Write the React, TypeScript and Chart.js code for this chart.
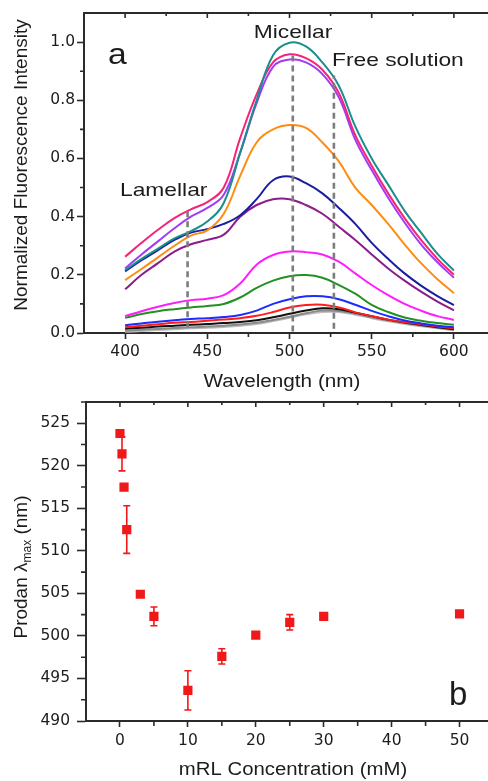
import React, { useEffect, useRef } from "react";
import { Chart, registerables } from "chart.js";

Chart.register(...registerables);

// ---------------- Panel (a): emission spectra ----------------
const wavelengthNm = [400, 410, 420, 430, 440, 450, 460, 470, 480, 490, 500, 510, 520, 530, 540, 550, 560, 570, 580, 590, 600];
const spectrumTeal = [0.216, 0.255, 0.29, 0.325, 0.35, 0.383, 0.447, 0.62, 0.8, 0.955, 0.998, 0.985, 0.93, 0.85, 0.71, 0.6, 0.51, 0.42, 0.345, 0.272, 0.215];
const spectrumRose = [0.262, 0.31, 0.355, 0.395, 0.425, 0.45, 0.5, 0.67, 0.82, 0.93, 0.958, 0.945, 0.905, 0.825, 0.68, 0.575, 0.48, 0.395, 0.32, 0.255, 0.2];
const spectrumViolet = [0.222, 0.27, 0.315, 0.36, 0.4, 0.43, 0.475, 0.62, 0.79, 0.915, 0.94, 0.93, 0.89, 0.81, 0.665, 0.56, 0.465, 0.38, 0.305, 0.243, 0.19];
const spectrumOrange = [0.182, 0.22, 0.26, 0.3, 0.335, 0.353, 0.41, 0.54, 0.655, 0.7, 0.715, 0.705, 0.655, 0.59, 0.5, 0.44, 0.375, 0.305, 0.24, 0.185, 0.137];
const spectrumNavy = [0.212, 0.25, 0.285, 0.32, 0.345, 0.357, 0.375, 0.405, 0.46, 0.525, 0.538, 0.515, 0.48, 0.43, 0.375, 0.31, 0.255, 0.205, 0.163, 0.127, 0.096];
const spectrumPurple = [0.15, 0.2, 0.24, 0.28, 0.305, 0.32, 0.338, 0.4, 0.44, 0.46, 0.46, 0.44, 0.41, 0.365, 0.32, 0.27, 0.222, 0.18, 0.142, 0.108, 0.078];
const spectrumMagenta = [0.058, 0.075, 0.09, 0.103, 0.113, 0.118, 0.13, 0.17, 0.235, 0.268, 0.28, 0.278, 0.27, 0.245, 0.205, 0.165, 0.13, 0.1, 0.077, 0.058, 0.045];
const spectrumGreen = [0.052, 0.065, 0.075, 0.082, 0.088, 0.093, 0.1, 0.122, 0.155, 0.18, 0.195, 0.199, 0.19, 0.165, 0.135, 0.097, 0.072, 0.053, 0.042, 0.034, 0.028];
const spectrumBlue = [0.027, 0.033, 0.039, 0.044, 0.048, 0.051, 0.055, 0.062, 0.077, 0.1, 0.116, 0.126, 0.126, 0.116, 0.097, 0.076, 0.058, 0.043, 0.033, 0.025, 0.02];
const spectrumRed = [0.02, 0.025, 0.03, 0.035, 0.038, 0.042, 0.046, 0.051, 0.059, 0.072, 0.088, 0.096, 0.097, 0.088, 0.071, 0.058, 0.046, 0.037, 0.03, 0.022, 0.016];
const spectrumBlack = [0.015, 0.018, 0.022, 0.025, 0.028, 0.031, 0.034, 0.038, 0.044, 0.054, 0.066, 0.077, 0.085, 0.082, 0.07, 0.058, 0.046, 0.036, 0.028, 0.02, 0.013];
const spectrumGray = [0.008, 0.011, 0.014, 0.017, 0.02, 0.022, 0.025, 0.029, 0.035, 0.045, 0.056, 0.068, 0.077, 0.076, 0.066, 0.054, 0.043, 0.034, 0.026, 0.018, 0.011];
const spectrumLightGray = [0.004, 0.007, 0.01, 0.013, 0.016, 0.018, 0.021, 0.025, 0.031, 0.041, 0.052, 0.064, 0.072, 0.072, 0.063, 0.051, 0.04, 0.031, 0.023, 0.016, 0.009];

// dashed markers for the three environments
const regionNames = ["Lamellar", "Micellar", "Free solution"];
const regionWavelength = [438, 502, 527];
const regionLineTop = [0.425, 0.955, 0.885];
const regionLineBottom = [0.02, 0.005, 0.015];

const wavelengthTicks = [400, 450, 500, 550, 600];
const wavelengthMinorTicks = [425, 475, 525, 575];
const intensityTicks = [0, 0.2, 0.4, 0.6, 0.8, 1.0];
const intensityMinorTicks = [0.1, 0.3, 0.5, 0.7, 0.9];

// ---------------- Panel (b): lambda max vs concentration ----------------
const concentrationMM = [0, 0.3, 0.6, 1, 3, 5, 10, 15, 20, 25, 30, 50];
const lambdaMaxNm = [523.8, 521.4, 517.5, 512.5, 504.9, 502.3, 493.6, 497.6, 500.1, 501.6, 502.3, 502.6];
const lambdaErrNm = [0.3, 2.0, 0.3, 2.8, 0.3, 1.1, 2.3, 0.9, 0.3, 0.9, 0.3, 0.3];

const concentrationTicks = [0, 10, 20, 30, 40, 50];
const concentrationMinorTicks = [5, 15, 25, 35, 45];
const lambdaTicks = [490, 495, 500, 505, 510, 515, 520, 525];
const lambdaMinorTicks = [492.5, 497.5, 502.5, 507.5, 512.5, 517.5, 522.5, 527.5];

// ---------------- styling ----------------
const AXIS = "#2b2b2b";
const TEXT = "#1c1c1c";
const TICK_FONT = { family: '"DejaVu Sans", sans-serif', size: 15.5 };
const TITLE_FAMILY = '"Liberation Sans", Arial, sans-serif';

const spectraStyle: [number[], string][] = [
  [spectrumTeal, "#1a8f8c"],
  [spectrumRose, "#f5237a"],
  [spectrumViolet, "#a03cf5"],
  [spectrumOrange, "#ff8c10"],
  [spectrumNavy, "#1c1ca0"],
  [spectrumPurple, "#8c1c8c"],
  [spectrumMagenta, "#ff1cff"],
  [spectrumGreen, "#229022"],
  [spectrumBlue, "#1c2cff"],
  [spectrumRed, "#ff1c1c"],
  [spectrumBlack, "#111111"],
  [spectrumGray, "#8a8a8a"],
  [spectrumLightGray, "#bdbdbd"],
];

const CANVAS_W = 500;
const TOP_H = 392;
const BOT_H = 389;

function drawText(ctx: CanvasRenderingContext2D, text: string, x: number, y: number, size: number, align: CanvasTextAlign, sx = 1) {
  ctx.save();
  ctx.translate(x, y);
  ctx.scale(sx, 1);
  ctx.font = `${size}px ${TITLE_FAMILY}`;
  ctx.textAlign = align;
  ctx.textBaseline = "alphabetic";
  ctx.fillStyle = TEXT;
  ctx.fillText(text, 0, 0);
  ctx.restore();
}

function drawFrame(chart: any, minorX: number[], minorY: number[], topMajor: number[], topMinor: number[], outMinor: number) {
  const { ctx, chartArea: a } = chart;
  const xs = chart.scales.x;
  const ys = chart.scales.y;
  ctx.save();
  ctx.strokeStyle = AXIS;
  ctx.lineWidth = 2;
  ctx.beginPath();
  ctx.moveTo(a.left - 1, a.top);
  ctx.lineTo(a.right, a.top);
  ctx.lineTo(a.right, a.bottom);
  ctx.stroke();
  ctx.lineWidth = 1.6;
  ctx.beginPath();
  for (const v of minorX) {
    const p = xs.getPixelForValue(v);
    ctx.moveTo(p, a.bottom);
    ctx.lineTo(p, a.bottom + outMinor);
  }
  for (const v of minorY) {
    const p = ys.getPixelForValue(v);
    if (p < a.top - 0.5) continue;
    ctx.moveTo(a.left, p);
    ctx.lineTo(a.left - outMinor, p);
  }
  for (const v of topMajor) {
    const p = xs.getPixelForValue(v);
    ctx.moveTo(p, a.top);
    ctx.lineTo(p, a.top + 5);
  }
  for (const v of topMinor) {
    const p = xs.getPixelForValue(v);
    ctx.moveTo(p, a.top);
    ctx.lineTo(p, a.top + 3);
  }
  ctx.stroke();
  ctx.restore();
}

const decorA = {
  id: "decorA",
  afterDraw(chart: any) {
    const ctx = chart.ctx as CanvasRenderingContext2D;
    drawFrame(chart, wavelengthMinorTicks, intensityMinorTicks, wavelengthTicks, wavelengthMinorTicks, 4);
    // panel letter and region labels
    drawText(ctx, "a", 108, 64, 30, "left", 1.12);
    drawText(ctx, regionNames[1], 293, 38, 19, "center", 1.2);
    drawText(ctx, regionNames[2], 332, 66, 19, "left", 1.2);
    drawText(ctx, regionNames[0], 120, 196, 19, "left", 1.2);
    // axis titles
    drawText(ctx, "Wavelength (nm)", 282, 387, 18, "center", 1.15);
    ctx.save();
    ctx.translate(27, 165);
    ctx.rotate(-Math.PI / 2);
    ctx.font = `19px ${TITLE_FAMILY}`;
    ctx.fillStyle = TEXT;
    ctx.textAlign = "center";
    ctx.textBaseline = "alphabetic";
    ctx.fillText("Normalized Fluorescence Intensity", 0, 0);
    ctx.restore();
  },
};

const decorB = {
  id: "decorB",
  beforeDatasetsDraw(chart: any) {
    const ctx = chart.ctx as CanvasRenderingContext2D;
    const meta = chart.getDatasetMeta(0);
    const ys = chart.scales.y;
    ctx.save();
    ctx.strokeStyle = "#f01818";
    ctx.lineWidth = 1.6;
    ctx.beginPath();
    meta.data.forEach((pt: any, i: number) => {
      const top = ys.getPixelForValue(lambdaMaxNm[i] + lambdaErrNm[i]);
      const bot = ys.getPixelForValue(lambdaMaxNm[i] - lambdaErrNm[i]);
      ctx.moveTo(pt.x, top);
      ctx.lineTo(pt.x, bot);
      ctx.moveTo(pt.x - 3.5, top);
      ctx.lineTo(pt.x + 3.5, top);
      ctx.moveTo(pt.x - 3.5, bot);
      ctx.lineTo(pt.x + 3.5, bot);
    });
    ctx.stroke();
    ctx.restore();
  },
  afterDraw(chart: any) {
    const ctx = chart.ctx as CanvasRenderingContext2D;
    drawFrame(chart, concentrationMinorTicks, lambdaMinorTicks, concentrationTicks, concentrationMinorTicks, 5);
    drawText(ctx, "b", 449, 705 - TOP_H, 33, "left", 1.0);
    drawText(ctx, "mRL Concentration (mM)", 293, 775 - TOP_H, 18, "center", 1.13);
    // rotated title with subscript
    ctx.save();
    ctx.translate(27, 567 - TOP_H);
    ctx.rotate(-Math.PI / 2);
    ctx.fillStyle = TEXT;
    ctx.textBaseline = "alphabetic";
    ctx.textAlign = "left";
    const big = `19px ${TITLE_FAMILY}`;
    const small = `12px ${TITLE_FAMILY}`;
    ctx.font = big;
    const p1 = "Prodan \u03bb";
    const p3 = " (nm)";
    const w1 = ctx.measureText(p1).width;
    const w3 = ctx.measureText(p3).width;
    ctx.font = small;
    const w2 = ctx.measureText("max").width;
    let x0 = -(w1 + w2 + w3) / 2;
    ctx.font = big;
    ctx.fillText(p1, x0, 0);
    ctx.font = small;
    ctx.fillText("max", x0 + w1, 4);
    ctx.font = big;
    ctx.fillText(p3, x0 + w1 + w2, 0);
    ctx.restore();
  },
};

function axisCommon(tickLength: number) {
  return {
    grid: { display: true, drawOnChartArea: false, drawTicks: true, tickLength, tickWidth: 1.6, tickColor: AXIS },
    border: { display: true, color: AXIS, width: 2 },
  };
}

export default function App() {
  const topRef = useRef<HTMLCanvasElement | null>(null);
  const botRef = useRef<HTMLCanvasElement | null>(null);

  useEffect(() => {
    const datasets: any[] = [];
    regionWavelength.forEach((w, i) => {
      datasets.push({
        label: regionNames[i],
        data: [
          { x: w, y: regionLineBottom[i] },
          { x: w, y: regionLineTop[i] },
        ],
        borderColor: "#7d7d7d",
        borderWidth: 2.6,
        borderDash: [6, 4],
        pointRadius: 0,
        tension: 0,
        fill: false,
      });
    });
    spectraStyle.forEach(([vals, color], i) => {
      datasets.push({
        label: `spectrum ${i + 1}`,
        data: wavelengthNm.map((w, k) => ({ x: w, y: vals[k] })),
        borderColor: color,
        borderWidth: 2,
        pointRadius: 0,
        tension: 0.4,
        fill: false,
      });
    });

    const chartA = new Chart(topRef.current as HTMLCanvasElement, {
      type: "line",
      data: { datasets },
      options: {
        animation: false,
        responsive: false,
        maintainAspectRatio: false,
        layout: { padding: { left: 0, top: 13, right: 5, bottom: 0 } },
        plugins: { legend: { display: false }, tooltip: { enabled: false } },
        scales: {
          x: {
            type: "linear",
            min: 375,
            max: 625,
            afterFit: (s: any) => {
              s.height = TOP_H - 333;
            },
            afterBuildTicks: (s: any) => {
              s.ticks = wavelengthTicks.map((v) => ({ value: v }));
            },
            ticks: { font: TICK_FONT, color: TEXT, padding: 4, maxRotation: 0, autoSkip: false },
            ...axisCommon(6),
          },
          y: {
            type: "linear",
            min: 0,
            max: 1.1,
            afterFit: (s: any) => {
              s.width = 84;
              s.paddingTop = 0;
              s.paddingBottom = 0;
            },
            afterBuildTicks: (s: any) => {
              s.ticks = intensityTicks.map((v) => ({ value: v }));
            },
            ticks: { font: TICK_FONT, color: TEXT, padding: 2, callback: (v: any) => Number(v).toFixed(1) },
            ...axisCommon(7),
          },
        },
      } as any,
      plugins: [decorA],
    });

    const chartB = new Chart(botRef.current as HTMLCanvasElement, {
      type: "scatter",
      data: {
        datasets: [
          {
            label: "Prodan lambda max",
            data: concentrationMM.map((c, i) => ({ x: c, y: lambdaMaxNm[i] })),
            pointStyle: "rect",
            pointRadius: 6.5,
            backgroundColor: "#f01818",
            borderColor: "#f01818",
            borderWidth: 0,
            showLine: false,
          },
        ],
      },
      options: {
        animation: false,
        responsive: false,
        maintainAspectRatio: false,
        layout: { padding: { left: 0, top: 10, right: 3.5, bottom: 0 } },
        plugins: { legend: { display: false }, tooltip: { enabled: false } },
        scales: {
          x: {
            type: "linear",
            min: -5,
            max: 55,
            afterFit: (s: any) => {
              s.height = BOT_H - 329;
            },
            afterBuildTicks: (s: any) => {
              s.ticks = concentrationTicks.map((v) => ({ value: v }));
            },
            ticks: { font: TICK_FONT, color: TEXT, padding: 5, maxRotation: 0, autoSkip: false },
            ...axisCommon(6),
          },
          y: {
            type: "linear",
            min: 490,
            max: 527.5,
            afterFit: (s: any) => {
              s.width = 86;
              s.paddingTop = 0;
              s.paddingBottom = 0;
            },
            afterBuildTicks: (s: any) => {
              s.ticks = lambdaTicks.map((v) => ({ value: v }));
            },
            ticks: { font: TICK_FONT, color: TEXT, padding: 7, callback: (v: any) => String(v) },
            ...axisCommon(9),
          },
        },
      } as any,
      plugins: [decorB],
    });

    return () => {
      chartA.destroy();
      chartB.destroy();
    };
  }, []);

  return (
    <div style={{ position: "absolute", left: 0, top: 0, width: 488, height: 781, overflow: "hidden", background: "#fff" }}>
      <canvas
        ref={topRef}
        width={CANVAS_W}
        height={TOP_H}
        style={{ position: "absolute", left: 0, top: 0, width: CANVAS_W, height: TOP_H, display: "block" }}
      />
      <canvas
        ref={botRef}
        width={CANVAS_W}
        height={BOT_H}
        style={{ position: "absolute", left: 0, top: TOP_H, width: CANVAS_W, height: BOT_H, display: "block" }}
      />
    </div>
  );
}
